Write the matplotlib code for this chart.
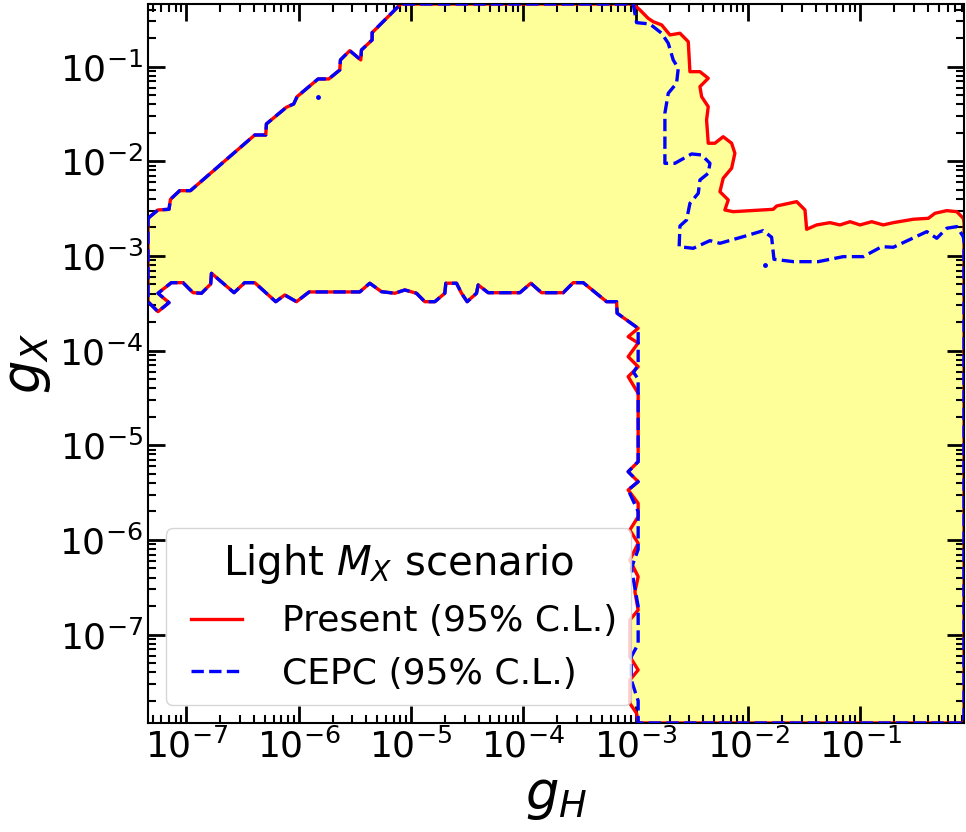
import numpy as np
import matplotlib.pyplot as plt

# log10 limits of the scan grid
xlim_log = (-7.342, -0.078)
ylim_log = (-7.934, -0.338)

# upper-left boundary (both contours), log10(gH), log10(gX)
up_x = [-7.342, -7.253, -7.155, -7.142, -7.060, -6.964, -6.392, -6.294, -6.288,
        -6.110, -6.045, -6.015, -5.828, -5.733, -5.635, -5.629, -5.546, -5.448,
        -5.442, -5.347, -5.347, -5.116, -5.092]
up_y = [-2.602, -2.514, -2.507, -2.401, -2.310, -2.310, -1.722, -1.722, -1.605,
        -1.429, -1.394, -1.317, -1.130, -1.130, -1.035, -0.929, -0.831, -0.929,
        -0.824, -0.718, -0.641, -0.366, -0.338]

# right side, present (red)
pr_x = [-3.023, -2.963, -2.890, -2.845, -2.770, -2.696, -2.607, -2.533, -2.518,
        -2.429, -2.355, -2.429, -2.414, -2.355, -2.370, -2.355, -2.296, -2.222,
        -2.147, -2.118, -2.147, -2.222, -2.251, -2.177, -2.207, -2.133, -1.777,
        -1.746, -1.568, -1.494, -1.479, -1.390, -1.272, -1.183, -1.093, -1.004,
        -0.900, -0.797, -0.708, -0.530, -0.396, -0.337, -0.232, -0.143, -0.085,
        -0.078]
pr_y = [-0.338, -0.401, -0.489, -0.525, -0.559, -0.665, -0.647, -0.736, -1.053,
        -1.053, -1.123, -1.211, -1.317, -1.423, -1.563, -1.809, -1.809, -1.740,
        -1.809, -1.915, -2.073, -2.179, -2.321, -2.408, -2.514, -2.532, -2.507,
        -2.472, -2.426, -2.514, -2.718, -2.672, -2.648, -2.672, -2.638, -2.672,
        -2.638, -2.672, -2.648, -2.612, -2.602, -2.549, -2.521, -2.532, -2.602,
        -2.650]

# right side, CEPC (blue)
ce_x = [-3.023, -2.993, -2.875, -2.770, -2.711, -2.667, -2.622, -2.637, -2.711,
        -2.741, -2.741, -2.652, -2.503, -2.414, -2.340, -2.355, -2.429, -2.444,
        -2.518, -2.548, -2.607, -2.614, -2.489, -2.340, -2.251, -2.044, -1.866,
        -1.791, -1.770, -1.598, -1.376, -1.153, -0.975, -0.811, -0.708, -0.410,
        -0.321, -0.232, -0.143, -0.085, -0.078]
ce_y = [-0.338, -0.535, -0.549, -0.647, -0.753, -0.929, -1.017, -1.175, -1.281,
        -1.492, -2.021, -2.021, -1.922, -1.933, -2.021, -2.126, -2.197, -2.338,
        -2.443, -2.620, -2.683, -2.902, -2.919, -2.838, -2.866, -2.796, -2.733,
        -2.802, -3.035, -3.060, -3.060, -3.007, -3.007, -2.902, -2.908, -2.743,
        -2.813, -2.707, -2.690, -2.796, -2.850]

# vertical boundary near gH ~ 1e-3 (bottom to top)
vr_x = [-2.979, -2.993, -3.053, -3.053, -2.979, -3.053, -3.053, -2.979, -3.008,
        -2.979, -3.053, -2.979, -3.053, -2.979, -2.979, -3.068, -2.979, -3.068,
        -2.979, -2.979, -3.068, -2.979, -3.068, -2.979, -3.068, -2.979]
vr_y = [-7.934, -7.832, -7.726, -7.480, -7.374, -7.233, -6.846, -6.740, -6.547,
        -6.388, -6.212, -6.035, -5.895, -5.754, -5.613, -5.472, -5.385, -5.279,
        -5.173, -4.451, -4.275, -4.170, -4.064, -3.919, -3.853, -3.764]
vc_x = [-2.979, -2.979, -3.040, -3.040, -2.979, -2.979, -3.040, -2.979, -2.979,
        -3.068, -2.979, -3.068, -2.979, -2.979, -3.020, -2.979, -2.979]
vc_y = [-7.934, -7.700, -7.480, -7.233, -7.100, -6.700, -6.300, -6.100, -5.700,
        -5.472, -5.385, -5.279, -5.173, -4.300, -4.230, -4.150, -3.764]

# lower boundary (both contours), right to left
lo_x = [-3.166, -3.171, -3.260, -3.468, -3.557, -3.646, -3.839, -3.934, -4.032,
        -4.314, -4.403, -4.418, -4.501, -4.551, -4.596, -4.691, -4.700, -4.789,
        -4.878, -4.952, -5.056, -5.145, -5.264, -5.368, -5.457, -5.908, -6.020,
        -6.125, -6.205, -6.392, -6.481, -6.576, -6.777, -6.784, -6.866, -6.941,
        -7.030, -7.134, -7.253, -7.155, -7.253, -7.342]
lo_y = [-3.605, -3.483, -3.483, -3.282, -3.282, -3.388, -3.388, -3.288, -3.388,
        -3.388, -3.306, -3.394, -3.483, -3.394, -3.288, -3.288, -3.394, -3.483,
        -3.483, -3.394, -3.359, -3.394, -3.377, -3.288, -3.380, -3.380, -3.483,
        -3.412, -3.483, -3.282, -3.282, -3.388, -3.183, -3.296, -3.394, -3.388,
        -3.282, -3.282, -3.394, -3.493, -3.588, -3.483]

# isolated CEPC islands
dot_x = [-5.828, -1.850]
dot_y = [-1.317, -3.095]


def contour(rx, ry, vx, vy):
    xs = up_x + rx + [xlim_log[1]] + vx + lo_x + [up_x[0]]
    ys = up_y + ry + [ylim_log[0]] + vy + lo_y + [up_y[0]]
    return 10**np.array(xs), 10**np.array(ys)


fig = plt.figure(figsize=(9.66, 8.32), dpi=100)
ax = fig.add_axes([0.1532, 0.131, 0.8448, 0.8642])

px, py = contour(pr_x, pr_y, vr_x, vr_y)
cx, cy = contour(ce_x, ce_y, vc_x, vc_y)

ax.fill(px, py, color='#ffff99', lw=0, zorder=1)
ax.plot(px, py, color='red', lw=2.4, label='Present (95% C.L.)', zorder=2)
ax.plot(cx, cy, color='blue', lw=2.4, ls='--', label='CEPC (95% C.L.)', zorder=3)
ax.plot(10**np.array(dot_x), 10**np.array(dot_y), 'o', color='blue', ms=2.5, zorder=3)

ax.set_xscale('log')
ax.set_yscale('log')
ax.set_xlim(10**xlim_log[0], 10**xlim_log[1])
ax.set_ylim(10**ylim_log[0], 10**ylim_log[1])

ax.set_xticks([1e-7, 1e-6, 1e-5, 1e-4, 1e-3, 1e-2, 1e-1])
ax.set_yticks([1e-7, 1e-6, 1e-5, 1e-4, 1e-3, 1e-2, 1e-1])
ax.tick_params(which='both', direction='in', top=True, right=True, labelsize=26)
ax.tick_params(which='major', length=12, width=2)
ax.tick_params(which='minor', length=6, width=1.5)
for s in ax.spines.values():
    s.set_linewidth(1.5)

ax.set_xlabel(r'$g_H$', fontsize=38)
ax.set_ylabel(r'$g_X$', fontsize=38)

leg = ax.legend(loc='lower left', fontsize=26, title=r'Light $M_X$ scenario',
                title_fontsize=29, numpoints=2)

fig.savefig('out.png', dpi=100)
